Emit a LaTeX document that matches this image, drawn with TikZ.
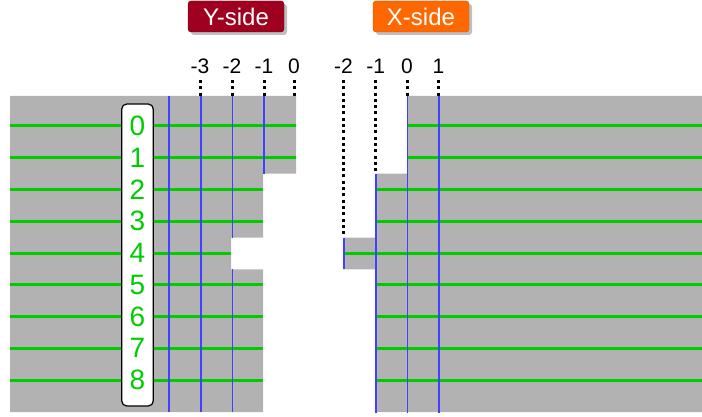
\documentclass[tikz,border=0pt]{standalone}
\usepackage{fontspec}
\setmainfont{Liberation Sans}
\definecolor{rowgreen}{RGB}{0,204,0}
\definecolor{colblue}{RGB}{64,64,255}
\definecolor{ybox}{RGB}{160,0,32}
\definecolor{yboxdraw}{RGB}{110,0,20}
\definecolor{xbox}{RGB}{255,104,0}
\definecolor{xboxdraw}{RGB}{210,80,0}
\begin{document}
\begin{tikzpicture}[x=1pt,y=-1pt,
  graybg/.style={fill=black!30,draw=none},
  rowline/.style={draw=rowgreen,line width=3pt},
  colline/.style={draw=colblue,line width=1.8pt},
  dotline/.style={draw=black,line width=3pt,dash pattern=on 3pt off 3.3pt},
  idx/.style={font=\fontsize{21}{21}\selectfont,inner sep=0pt,anchor=center},
  sidebox/.style={rounded corners=3pt,minimum width=96pt,minimum height=31pt,text=white,font=\fontsize{24}{24}\selectfont,inner sep=0pt},
  rownum/.style={text=rowgreen,font=\fontsize{28}{28}\selectfont,inner sep=0pt,anchor=center}]
\useasboundingbox (0,0) rectangle (702,417);
% gray regions
\fill[graybg] (10,96) -- (296,96) -- (296,173.75) -- (263,173.75) -- (263,237.5) -- (231,237.5) -- (231,269.25) -- (263,269.25) -- (263,412) -- (10,412) -- cycle;
\fill[graybg] (407,96) -- (702,96) -- (702,412) -- (375,412) -- (375,269.25) -- (343,269.25) -- (343,237.5) -- (375,237.5) -- (375,173.75) -- (407,173.75) -- cycle;
% green row lines
\foreach \k/\l/\r in {0/296/407,1/296/407,2/263/375,3/263/375,4/231/343,5/263/375,6/263/375,7/263/375,8/263/375}{
  \pgfmathsetmacro{\yy}{126+31.75*\k}
  \draw[rowline] (10,\yy) -- (\l,\yy);
  \draw[rowline] (\r,\yy) -- (702,\yy);
}
% blue column lines left
\draw[colline] (169,96) -- (169,412);
\draw[colline] (201,96) -- (201,412);
\draw[colline] (232.5,96) -- (232.5,237.5);
\draw[colline] (232.5,269.25) -- (232.5,412);
\draw[colline] (264,96) -- (264,173.75);
% blue column lines right
\draw[colline] (344,237.5) -- (344,269.25);
\draw[colline] (376,173.75) -- (376,413);
\draw[colline] (407.5,96) -- (407.5,413);
\draw[colline] (439,96) -- (439,413);
% index labels and dotted lines
\foreach \n/\x/\txt in {ym3/200/-3,ym2/232/-2,ym1/264/-1,y0/294/0}{
  \node[idx] (\n) at (\x,66) {\txt};
  \coordinate (\n e) at (\x,96);
  \draw[dotline] (\x,80) -- (\n e);
}
\foreach \n/\x/\txt/\e in {xm2/343.5/-2/237,xm1/375.7/-1/173.75,x0/407/0/96,x1/438.5/1/96}{
  \node[idx] (\n) at (\x,66) {\txt};
  \coordinate (\n e) at (\x,\e);
  \draw[dotline] (\x,80) -- (\n e);
}
% row number box
\node[draw=black,line width=1.2pt,fill=white,rounded corners=5pt,minimum width=31.5pt,minimum height=302pt,inner sep=0pt] (rowbox) at (137.5,255) {};
\foreach \k in {0,...,8}{
  \node[rownum] (r\k) at (137.5,126+31.75*\k) {\k};
}
% side boxes with shadows
\fill[black!25,rounded corners=3pt] (191,4) rectangle (287,35);
\node[sidebox,fill=ybox,draw=yboxdraw] (yside) at (236,16.5) {Y-side};
\fill[black!25,rounded corners=3pt] (376,4) rectangle (472,35);
\node[sidebox,fill=xbox,draw=xboxdraw] (xside) at (421,16.5) {X-side};
\end{tikzpicture}
\end{document}
